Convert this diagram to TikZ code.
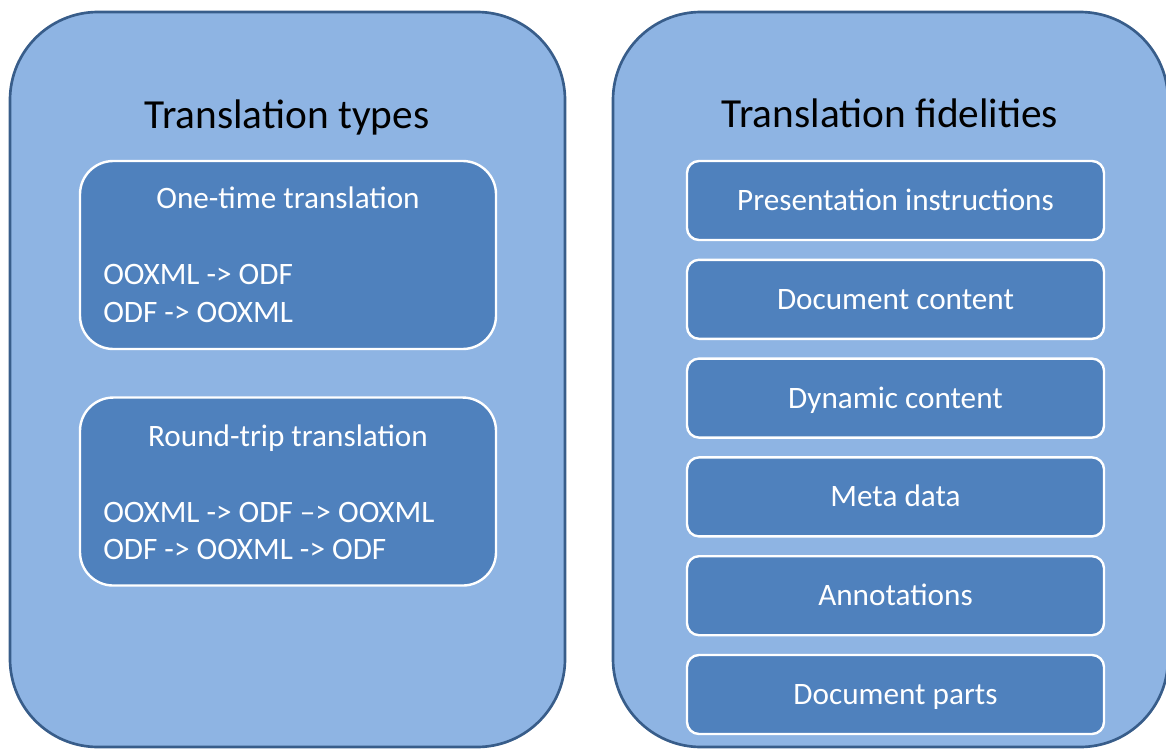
\documentclass[tikz,border=0pt]{standalone}
\usepackage{fontspec}
\setmainfont{Carlito}
\usetikzlibrary{positioning}
\definecolor{panelfill}{HTML}{8EB4E3}
\definecolor{paneldraw}{HTML}{385D8A}
\definecolor{boxfill}{HTML}{4F81BD}

\begin{document}
\begin{tikzpicture}[x=0.75pt, y=-0.75pt,
    panel/.style={rectangle, rounded corners=66pt, draw=paneldraw,
      fill=panelfill, line width=2pt, minimum width=416.25pt,
      minimum height=551.25pt},
    group/.style={rectangle, rounded corners=25pt, draw=white,
      fill=boxfill, line width=1.8pt, minimum width=312pt,
      minimum height=141pt, outer sep=0pt},
    item/.style={rectangle, rounded corners=9pt, draw=white, fill=boxfill,
      line width=1.8pt, minimum width=312.75pt, minimum height=59.25pt,
      outer sep=0pt, text=white, font=\fontsize{23.4}{28}\selectfont,
      text height=15.1pt, text depth=0pt},
    heading/.style={anchor=base, inner sep=0pt, font=\fontsize{31}{37}\selectfont},
    label/.style={text=white, inner sep=0pt, font=\fontsize{23.4}{28}\selectfont}]

  \useasboundingbox (0,0) rectangle (1166,749);

  \node[panel] (types) at (287.5,379.5) {};
  \node[panel] (fidel) at (890.5,379.5) {};
  \node[heading] (typestitle) at (287,128) {Translation types};
  \node[heading] (fideltitle) at (890,127) {Translation fidelities};

  \node[group] (onetime) at (288,255) {};
  \node[group, below=36.4pt of onetime] (roundtrip) {};
  \node[label, anchor=base] (onetimetitle) at (288,208) {One-time translation};
  \node[label, anchor=base west] (onetimea) at (103,284) {OOXML -> ODF};
  \node[label, anchor=base west] (onetimeb) at (103,322) {ODF -> OOXML};
  \node[label, anchor=base] (roundtriptitle) at (288,446) {Round-trip translation};
  \node[label, anchor=base west] (roundtripa) at (103,522) {OOXML -> ODF –> OOXML};
  \node[label, anchor=base west] (roundtripb) at (103,559) {ODF -> OOXML -> ODF};

  \node[item] (pres) at (895.5,200.5) {Presentation instructions};
  \node[item, below=14.85pt of pres] (content) {Document content};
  \node[item, below=14.85pt of content] (dynamic) {Dynamic content};
  \node[item, below=14.85pt of dynamic] (meta) {Meta data};
  \node[item, below=14.85pt of meta] (annot) {Annotations};
  \node[item, below=14.85pt of annot] (parts) {Document parts};
\end{tikzpicture}
\end{document}
